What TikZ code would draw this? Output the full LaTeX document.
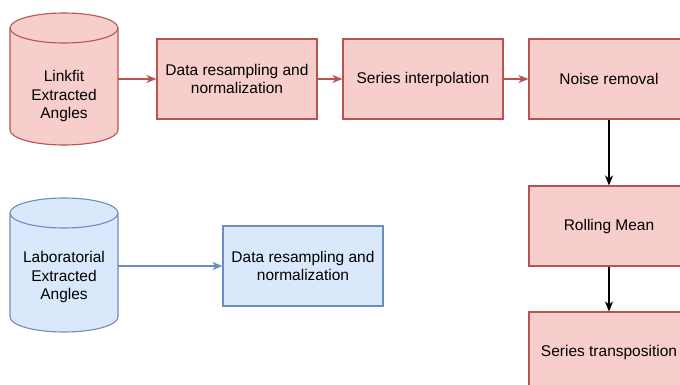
\documentclass[tikz,border=0pt]{standalone}
\usepackage{fontspec}
\setmainfont{Liberation Sans}
\usepackage{tikz}
\usetikzlibrary{arrows.meta,shapes}

\definecolor{redfill}{HTML}{F8CECC}
\definecolor{redline}{HTML}{B85450}
\definecolor{bluefill}{HTML}{DAE8FC}
\definecolor{blueline}{HTML}{6C8EBF}

\tikzset{
  redbox/.style={draw=redline, fill=redfill, line width=1.1pt, minimum width=160pt, minimum height=80pt, align=center, font=\fontsize{15.5}{18.5}\selectfont},
  bluebox/.style={redbox, draw=blueline, fill=bluefill},
  cyltext/.style={align=center, font=\fontsize{15.5}{18.5}\selectfont},
  redarrow/.style={draw=redline, line width=1.1pt, -{Stealth[length=10pt,width=8pt,inset=3pt]}},
  bluearrow/.style={redarrow, draw=blueline},
  blackarrow/.style={redarrow, draw=black}
}

\begin{document}
\begin{tikzpicture}[x=1pt,y=1pt]
    \clip (0,0) rectangle (680,-385);
    \fill[white] (0,0) rectangle (680,-385);

    % cylinders
    \filldraw[draw=redline, fill=redfill, line width=1.1pt] (10,-28) -- (10,-130) arc (180:360:54 and 15) -- (118,-28) arc (0:180:54 and 15) -- cycle;
    \draw[redline, line width=1.1pt] (10,-28) arc (180:360:54 and 15);
    \filldraw[draw=blueline, fill=bluefill, line width=1.1pt] (10,-213) -- (10,-317) arc (180:360:54 and 15) -- (118,-213) arc (0:180:54 and 15) -- cycle;
    \draw[blueline, line width=1.1pt] (10,-213) arc (180:360:54 and 15);

    \node[minimum width=108pt, minimum height=132pt] (linkfit) at (64,-79) {};
    \node[cyltext] at (64,-96) {Linkfit\\Extracted\\Angles};
    \node[minimum width=108pt, minimum height=134pt] (lab) at (64,-265) {};
    \node[cyltext] at (64,-277) {Laboratorial\\Extracted\\Angles};

    % boxes
    \node[redbox] (resample) at (237,-79) {Data resampling and\\normalization};
    \node[redbox] (interp) at (423,-79) {Series interpolation};
    \node[redbox] (noise) at (609,-79) {Noise removal};
    \node[redbox] (rolling) at (609,-226) {Rolling Mean};
    \node[redbox] (transp) at (609,-352) {Series transposition};
    \node[bluebox] (labresample) at (303,-266) {Data resampling and\\normalization};

    % connectors
    \draw[redarrow] (linkfit.east) -- (resample.west);
    \draw[redarrow] (resample) -- (interp);
    \draw[redarrow] (interp) -- (noise);
    \draw[blackarrow] (noise) -- (rolling);
    \draw[blackarrow] (rolling) -- (transp);
    \draw[bluearrow] (lab.east |- labresample.west) -- (labresample.west);
  \end{tikzpicture}
\end{document}
